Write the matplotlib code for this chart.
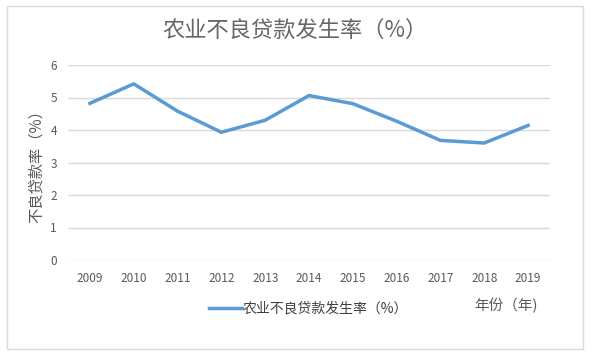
import matplotlib
matplotlib.use('Agg')
import matplotlib.pyplot as plt
from matplotlib.patches import Rectangle

plt.rcParams['font.family'] = ['Noto Sans CJK SC', 'DejaVu Sans']

years = ['2009', '2010', '2011', '2012', '2013', '2014', '2015', '2016', '2017', '2018', '2019']
rate = [4.82, 5.42, 4.58, 3.93, 4.30, 5.06, 4.81, 4.27, 3.68, 3.60, 4.14]

line_color = '#5B9BD5'
text_color = '#595959'
grid_color = '#D9D9D9'

fig = plt.figure(figsize=(5.93, 3.58), dpi=100)
ax = fig.add_axes([68 / 593, 1 - 260 / 358, (550 - 68) / 593, (260 - 65) / 358])

x = list(range(len(years)))
ax.plot(x, rate, color=line_color, linewidth=2.5, solid_joinstyle='round',
        label='农业不良贷款发生率（%）')

ax.set_xlim(-0.5, len(years) - 0.5)
ax.set_ylim(0, 6)
ax.set_yticks(range(0, 7))
ax.set_xticks(x)
ax.set_xticklabels(years)
ax.grid(axis='y', color=grid_color, linewidth=1)
ax.set_axisbelow(True)
for s in ax.spines.values():
    s.set_visible(False)
ax.tick_params(axis='both', length=0, colors=text_color, labelsize=8.5)
ax.tick_params(axis='x', pad=9)
ax.tick_params(axis='y', pad=8)

ax.set_ylabel('不良贷款率（%）', color=text_color, fontsize=11, labelpad=4)

fig.text(0.497, 1 - 30 / 358, '农业不良贷款发生率（%）', ha='center', va='center',
         fontsize=16, color='#666666')
fig.text(506 / 593, 1 - 305 / 358, '年份（年)', ha='center', va='center',
         fontsize=10.5, color=text_color)

fig.legend(loc='center', bbox_to_anchor=(0.52, 1 - 309 / 358), frameon=False,
           fontsize=10, handlelength=2.4, handletextpad=0.0, labelcolor='#404040')

fig.patches.append(Rectangle((7 / 593, 1 - 349 / 358), (583 - 7) / 593, (349 - 6) / 358,
                             transform=fig.transFigure, fill=False,
                             edgecolor=grid_color, linewidth=1))

fig.savefig('out.png', dpi=100)
